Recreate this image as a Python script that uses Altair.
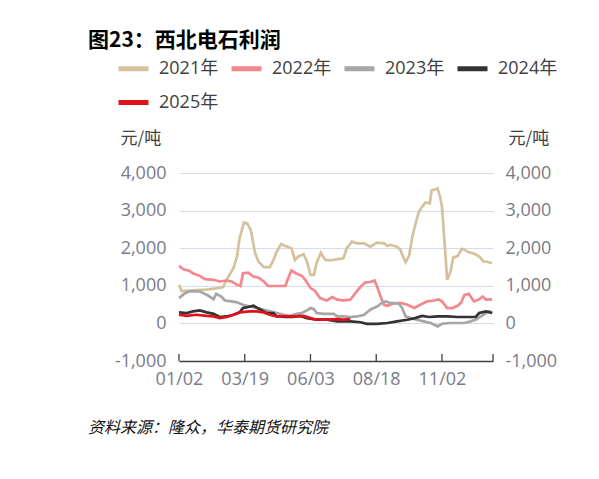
import altair as alt
import pandas as pd

# ---- data (day offset from 01/02, value 元/吨) ----
d2021 = [0, 3, 16, 32, 43, 51, 55, 63, 67, 70, 75, 79, 83, 88, 92, 98, 105, 109, 113, 118,
         123, 130, 134, 138, 144, 148, 152, 156, 159, 164, 169, 175, 190, 194, 200, 206, 214,
         221, 229, 237, 241, 244, 252, 256, 259, 262, 266, 270, 274, 277, 281, 285, 290, 292,
         296, 299, 302, 304, 307, 310, 314, 317, 322, 327, 330, 335, 341, 347, 352, 356, 362]
v2021 = [1025, 860, 880, 900, 930, 965, 1160, 1475, 1775, 2260, 2680, 2660, 2480, 1865, 1645,
         1495, 1495, 1680, 1910, 2110, 2060, 2000, 1690, 1780, 1840, 1645, 1290, 1290, 1600,
         1880, 1690, 1675, 1730, 2000, 2175, 2130, 2130, 2040, 2150, 2130, 2060, 2090, 2040,
         1950, 1780, 1630, 1800, 2330, 2700, 2950, 3100, 3215, 3190, 3540, 3560, 3590, 3350,
         3100, 2170, 1160, 1380, 1750, 1790, 1980, 1960, 1890, 1860, 1780, 1650, 1640, 1600]

d2022 = [0, 5, 12, 16, 24, 30, 40, 47, 55, 61, 67, 71, 74, 80, 86, 92, 98, 103, 109, 123, 127,
         130, 135, 142, 146, 152, 157, 163, 171, 177, 183, 190, 198, 204, 210, 215, 221, 226,
         229, 233, 237, 241, 248, 256, 264, 272, 279, 287, 295, 300, 304, 310, 316, 322, 326,
         330, 335, 341, 347, 351, 355, 362]
v2022 = [1530, 1440, 1400, 1335, 1265, 1175, 1160, 1115, 1140, 1115, 1025, 995, 1335, 1350,
         1245, 1215, 1115, 995, 995, 995, 1245, 1405, 1335, 1265, 1160, 940, 870, 673, 610, 700,
         630, 610, 630, 805, 980, 1085, 1100, 1140, 980, 715, 495, 470, 530, 545, 495, 408, 495,
         585, 610, 640, 585, 408, 408, 470, 545, 760, 785, 585, 640, 715, 630, 640]

d2023 = [0, 7, 12, 24, 28, 34, 40, 43, 49, 53, 61, 67, 74, 82, 90, 98, 105, 113, 121, 128, 136,
         142, 148, 152, 156, 159, 167, 179, 183, 190, 198, 206, 214, 221, 229, 235, 239, 244,
         254, 258, 262, 268, 275, 283, 291, 299, 304, 314, 322, 330, 337, 343, 349, 355, 359, 362]
v2023 = [673, 805, 850, 850, 805, 735, 640, 785, 715, 610, 585, 560, 495, 450, 408, 363, 320,
         275, 230, 200, 255, 275, 345, 408, 380, 275, 255, 255, 185, 185, 170, 185, 230, 363,
         450, 557, 585, 545, 530, 408, 185, 140, 98, 55, 10, -80, -10, 10, 10, 10, 55, 98, 185,
         275, 320, 275]

d2024 = [0, 9, 16, 24, 32, 40, 47, 55, 63, 70, 74, 80, 86, 90, 96, 101, 109, 113, 123, 132, 140,
         148, 159, 171, 183, 198, 210, 217, 229, 241, 252, 264, 273, 281, 289, 299, 310, 322,
         333, 343, 347, 355, 362]
v2024 = [292, 275, 320, 345, 292, 255, 170, 185, 230, 292, 408, 435, 470, 420, 345, 275, 275,
         185, 170, 170, 200, 140, 98, 98, 55, 55, 30, -10, -10, 10, 55, 98, 140, 200, 170, 185,
         185, 170, 170, 170, 275, 320, 275]

d2025 = [0, 9, 20, 32, 40, 47, 55, 63, 70, 82, 90, 98, 105, 113, 125, 136, 144, 152, 159, 171,
         183, 190, 198]
v2025 = [230, 200, 230, 200, 185, 140, 170, 230, 292, 320, 320, 292, 230, 185, 185, 185, 200,
         140, 98, 98, 115, 98, 115]

series_names = ["2021年", "2022年", "2023年", "2024年", "2025年"]
series_colors = ["#d4c29c", "#f4878c", "#a6a6a6", "#333333", "#e0111b"]
tick_days = [0, 76, 152, 228, 304, 363]   # 01/02 03/19 06/03 08/18 11/02, axis end
y_ticks = [-1000, 0, 1000, 2000, 3000, 4000]

title_text = "图23：西北电石利润"
source_text = "资料来源：隆众，华泰期货研究院"
unit_text = "元/吨"

base_day = pd.Timestamp("2021-01-02")
frames = []
for name, d, v in zip(series_names, [d2021, d2022, d2023, d2024, d2025],
                      [v2021, v2022, v2023, v2024, v2025]):
    frames.append(pd.DataFrame({
        "date": base_day + pd.to_timedelta(d, unit="D"),
        "value": v,
        "series": name,
    }))
df = pd.concat(frames, ignore_index=True)
ticks_df = pd.DataFrame({"date": base_day + pd.to_timedelta(tick_days, unit="D")})

W, H = 314, 188
FONT = "Open Sans, Noto Sans CJK SC, sans-serif"
CJK = "Noto Sans CJK SC"
LABEL_GRAY = "#7b7b87"

x_scale = alt.Scale(domain=[alt.DateTime(year=2021, month=1, date=2),
                            alt.DateTime(year=2021, month=12, date=31)])
y_scale = alt.Scale(domain=[-1000, 4000], nice=False)
label_expr = "replace(format(datum.value, ','), '\u2212', '-')"

x_axis = alt.Axis(
    title=None,
    values=[alt.DateTime(year=2021, month=1, date=2), alt.DateTime(year=2021, month=3, date=19),
            alt.DateTime(year=2021, month=6, date=3), alt.DateTime(year=2021, month=8, date=18),
            alt.DateTime(year=2021, month=11, date=2)],
    format="%m/%d", ticks=False, grid=False, domain=True, domainColor="#404040",
    domainWidth=1.3, labelFont=FONT, labelFontSize=18, labelColor=LABEL_GRAY,
    labelPadding=9, labelFlush=False,
)

lines = alt.Chart(df).mark_line(strokeWidth=2.7).encode(
    x=alt.X("date:T", scale=x_scale, axis=x_axis),
    y=alt.Y("value:Q", scale=y_scale, axis=alt.Axis(
        values=y_ticks, labelExpr=label_expr, ticks=False, domain=False,
        grid=True, gridColor="#d9dce8", gridWidth=1.2,
        labelFont=FONT, labelFontSize=18, labelColor=LABEL_GRAY, labelPadding=13,
        title=unit_text, titleAngle=0, titleX=-59, titleY=-35, titleAlign="left",
        titleBaseline="middle", titleFont=CJK, titleFontSize=17, titleFontWeight="normal",
        titleColor="#404040")),
    color=alt.Color("series:N", scale=alt.Scale(domain=series_names, range=series_colors),
                    legend=alt.Legend(
                        title=None, orient="none", legendX=-63, legendY=-122,
                        direction="horizontal", columns=4, symbolType="stroke",
                        symbolSize=900, symbolStrokeWidth=5, labelOffset=8,
                        labelFont=FONT, labelFontSize=18, labelColor="#404040",
                        columnPadding=2, rowPadding=6, symbolOpacity=1)),
)

right_axis = alt.Chart(df).mark_line(opacity=0).encode(
    x=alt.X("date:T", scale=x_scale, axis=x_axis),
    y=alt.Y("value:Q", scale=y_scale, axis=alt.Axis(
        orient="right", values=y_ticks, labelExpr=label_expr, ticks=False, domain=False,
        grid=False, labelFont=FONT, labelFontSize=18, labelColor=LABEL_GRAY, labelPadding=12,
        title=unit_text, titleAngle=0, titleX=15, titleY=-35, titleAlign="left",
        titleBaseline="middle", titleFont=CJK, titleFontSize=17, titleFontWeight="normal",
        titleColor="#404040")),
    detail="series:N",
)

tick_rules = alt.Chart(ticks_df).mark_rule(color="#404040", strokeWidth=1.3).encode(
    x=alt.X("date:T", scale=x_scale, axis=x_axis),
    y=alt.value(H),
    y2=alt.value(H - 7),
)

title_mark = alt.Chart(pd.DataFrame({"t": [title_text]})).mark_text(
    align="left", baseline="middle", font=CJK, fontSize=21, fontWeight="bold", color="#000000"
).encode(text="t:N", x=alt.value(-91), y=alt.value(-132))

source_mark = alt.Chart(pd.DataFrame({"t": [source_text]})).mark_text(
    align="left", baseline="middle", font=CJK, fontSize=16, fontStyle="italic",
    color="#111111"
).encode(text="t:N", x=alt.value(-91), y=alt.value(255))

chart = alt.layer(lines, right_axis, tick_rules, title_mark, source_mark).resolve_axis(
    y="independent"
).properties(
    width=W, height=H,
    autosize=alt.AutoSizeParams(type="none"),
    padding={"left": 171, "top": 165, "right": 98, "bottom": 110},
).configure_view(stroke=None)

chart.save("out.html", embed_options={"renderer": "svg", "actions": False})
